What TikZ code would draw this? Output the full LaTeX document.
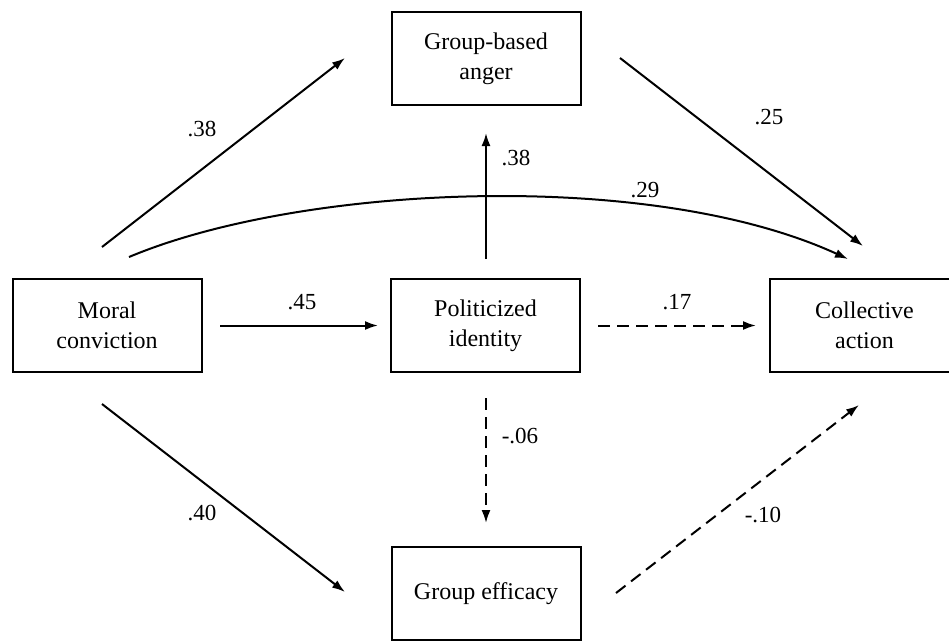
\documentclass[tikz,border=0pt]{standalone}
\usepackage{fontspec}
\setmainfont{Liberation Serif}
\usetikzlibrary{arrows.meta}
\begin{document}
\begin{tikzpicture}[x=1pt,y=-1pt,
  box/.style={draw,line width=2pt,minimum width=189pt,minimum height=93pt,inner sep=0pt,align=center,font=\fontsize{24}{30}\selectfont},
  conn/.style={line width=2pt,-{Latex[length=13pt,width=9pt]}},
  dsh/.style={conn,dash pattern=on 12pt off 7pt},
  lab/.style={font=\fontsize{23}{26}\selectfont,inner sep=0pt}]
\useasboundingbox (0,0) rectangle (949,641);
\node[box] (anger) at (486,58.5) {Group-based\\anger};
\node[box] (moral) at (107,325.5) {Moral\\conviction};
\node[box] (polit) at (485.5,325.5) {Politicized\\identity};
\node[box] (coll) at (864.5,325.5) {Collective\\action};
\node[box] (eff) at (486,593.5) {Group efficacy};
% connector end points
\coordinate (ma1) at (102,247); \coordinate (ma2) at (345,58);
\coordinate (mc1) at (129,257); \coordinate (mc2) at (848,259);
\coordinate (ac1) at (620,58);  \coordinate (ac2) at (863,246);
\coordinate (pa1) at (486,259); \coordinate (pa2) at (486,133);
\coordinate (mp1) at (220,325.5); \coordinate (mp2) at (378,325.5);
\coordinate (pc1) at (598,325.5); \coordinate (pc2) at (756,325.5);
\coordinate (pe1) at (486,398); \coordinate (pe2) at (486,523);
\coordinate (me1) at (102,404); \coordinate (me2) at (345,592);
\coordinate (ec1) at (616,593); \coordinate (ec2) at (859,405);
\draw[conn] (ma1) -- (ma2);
\draw[conn] (mc1) .. controls (300,185) and (650,168) .. (mc2);
\draw[conn] (ac1) -- (ac2);
\draw[conn] (pa1) -- (pa2);
\draw[conn] (mp1) -- (mp2);
\draw[dsh] (pc1) -- (pc2);
\draw[dsh] (pe1) -- (pe2);
\draw[conn] (me1) -- (me2);
\draw[dsh] (ec1) -- (ec2);
% labels
\node[lab] (l1) at (202,129) {.38};
\node[lab] (l2) at (645,190) {.29};
\node[lab] (l3) at (769,117) {.25};
\node[lab] (l4) at (516,158) {.38};
\node[lab] (l5) at (302,302) {.45};
\node[lab] (l6) at (677,302) {.17};
\node[lab] (l7) at (520,436) {-.06};
\node[lab] (l8) at (202,513) {.40};
\node[lab] (l9) at (763,515) {-.10};
\end{tikzpicture}
\end{document}
